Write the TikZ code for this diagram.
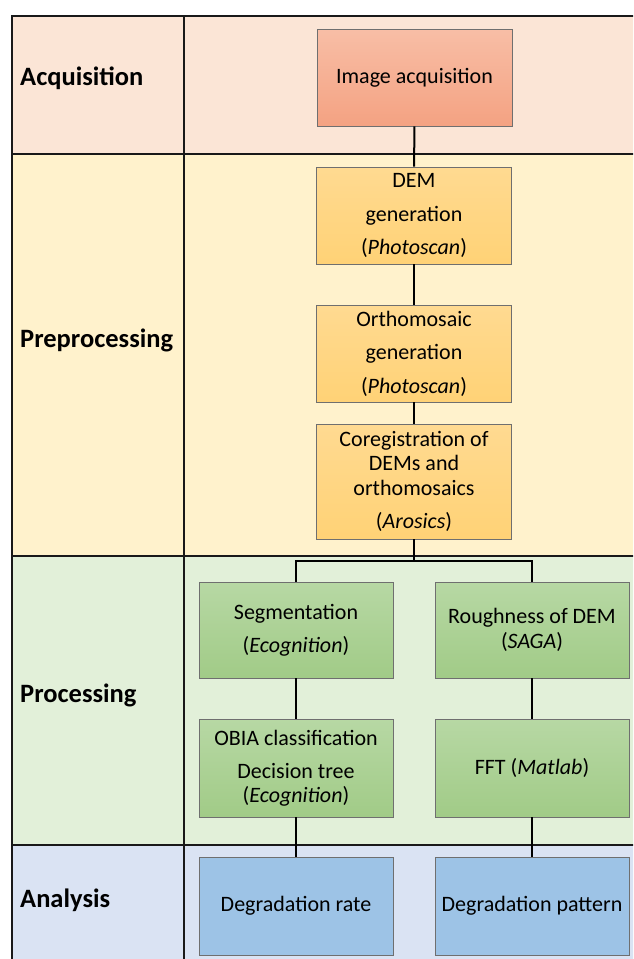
\documentclass[tikz,border=0pt]{standalone}
\usepackage{fontspec}
\setmainfont{Carlito}
\usepackage{tikz}
\definecolor{acqbg}{HTML}{FBE5D6}
\definecolor{prebg}{HTML}{FFF2CC}
\definecolor{probg}{HTML}{E2F0D9}
\definecolor{anabg}{HTML}{DAE3F3}
\definecolor{boxline}{HTML}{6F6F6F}
\tikzset{block/.style = {draw=boxline, line width=0.8pt, rectangle, inner sep=0pt, align=center,
                         minimum width=195pt, minimum height=97pt,
                         font=\fontsize{22}{24.5}\selectfont},
         acqblock/.style = {block, top color={rgb,255:red,248;green,190;blue,166}, bottom color={rgb,255:red,244;green,162;blue,130}},
         preblock/.style = {block, top color={rgb,255:red,255;green,218;blue,145}, bottom color={rgb,255:red,255;green,210;blue,118}},
         problock/.style = {block, top color={rgb,255:red,183;green,216;blue,164}, bottom color={rgb,255:red,161;green,203;blue,135}},
         anablock/.style = {block, fill={rgb,255:red,157;green,195;blue,230}},
         rowlabel/.style = {anchor=west, inner sep=0pt, font=\fontsize{26.5}{30}\selectfont\bfseries},
         link/.style = {line width=2pt, black},
         tabline/.style = {line width=2pt, black!90}}

\begin{document}
\begin{tikzpicture}[x=1pt,y=-1pt]
        \useasboundingbox (0,0) rectangle (633,959);
        \clip (0,0) rectangle (633,959);

        % table rows
        \fill[acqbg](12,16) rectangle (650,154);
        \fill[prebg](12,154) rectangle (650,556);
        \fill[probg](12,556) rectangle (650,845);
        \fill[anabg](12,845) rectangle (650,980);
        \draw[tabline](650,16)--(12,16)--(12,980);
        \draw[tabline](183.5,16)--(183.5,980);
        \draw[tabline](12,154)--(650,154);
        \draw[tabline](12,556)--(650,556);
        \draw[tabline](12,845)--(650,845);

        \node[rowlabel](acqlabel) at (20,78){Acquisition};
        \node[rowlabel](prelabel) at (20,340){Preprocessing};
        \node[rowlabel](prolabel) at (20,695){Processing};
        \node[rowlabel](analabel) at (20,900){Analysis};

        % steps
        \node[acqblock](acq) at (414.5,77.5){Image acquisition};
        \node[preblock](dem) at (414,215.5){DEM\\[9pt]generation\\[9pt](\textit{Photoscan})};
        \node[preblock](ortho) at (414,353.5){Orthomosaic\\[9pt]generation\\[9pt](\textit{Photoscan})};
        \node[preblock, minimum height=115pt](coreg) at (414,481.5){Coregistration of\\DEMs and\\orthomosaics\\[9pt](\textit{Arosics})};
        \node[problock, minimum width=194pt, minimum height=96pt](seg) at (296,630){Segmentation\\[8.5pt](\textit{Ecognition})};
        \node[problock, minimum width=194pt, minimum height=96pt](rough) at (532,630){Roughness of DEM\\(\textit{SAGA})};
        \node[problock, minimum width=194pt, minimum height=98pt](obia) at (296,768){OBIA classification\\[8.5pt]Decision tree\\(\textit{Ecognition})};
        \node[problock, minimum width=194pt, minimum height=98pt](fft) at (532,768){FFT (\textit{Matlab})};
        \node[anablock, minimum width=194pt, minimum height=98pt](rate) at (296,906){Degradation rate};
        \node[anablock, minimum width=194pt, minimum height=98pt](pattern) at (532,906){Degradation pattern};

        \coordinate(split) at (414,561);

        \draw[link](acq)--(dem);
        \draw[link](dem)--(ortho);
        \draw[link](ortho)--(coreg);
        \draw[link](coreg)--(split);
        \draw[link](seg.north)|-(split)-|(rough.north);
        \draw[link](seg)--(obia);
        \draw[link](rough)--(fft);
        \draw[link](obia)--(rate);
        \draw[link](fft)--(pattern);
    \end{tikzpicture}
\end{document}
